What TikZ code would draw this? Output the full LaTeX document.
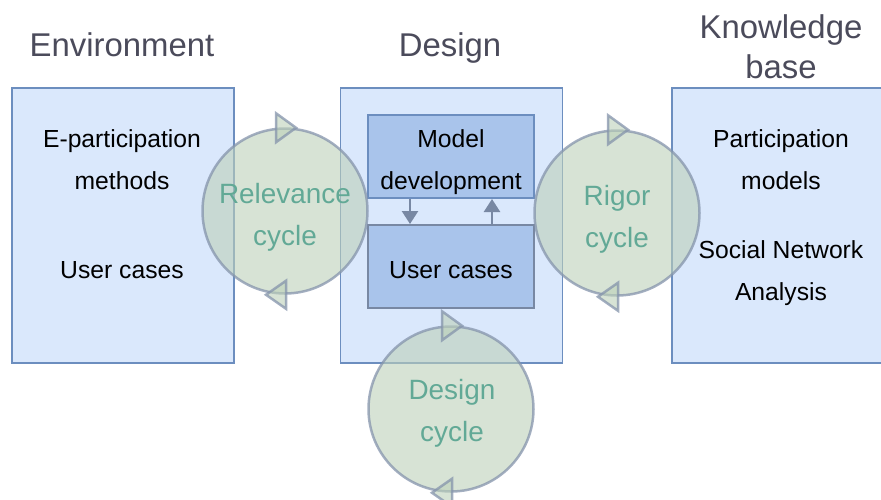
\documentclass[tikz,border=0pt]{standalone}
\usepackage{fontspec}
\setmainfont{Liberation Sans}
\usetikzlibrary{arrows.meta}

\definecolor{boxfill}{HTML}{DAE8FC}
\definecolor{boxline}{HTML}{6C8EBF}
\definecolor{innerfill}{HTML}{A9C4EB}
\definecolor{innerline}{HTML}{7888A3}
\definecolor{cyclefill}{HTML}{BCD0B9}
\definecolor{cycleline}{HTML}{8594AC}
\definecolor{cycletext}{HTML}{62A996}
\definecolor{titletext}{HTML}{4B4B5B}

\tikzset{
  outerbox/.style={draw=boxline, fill=boxfill, line width=1.5pt,
    minimum width=222pt, minimum height=275pt, inner sep=0pt},
  innerbox/.style={draw=boxline, fill=innerfill, line width=2pt,
    minimum width=166pt, minimum height=83pt, inner sep=0pt},
  boxtext/.style={align=center, font=\fontsize{24.7}{42}\selectfont},
  title/.style={align=center, text=titletext, font=\fontsize{32.9}{40}\selectfont},
  cycle/.style={circle, draw=cycleline, draw opacity=0.75, fill=cyclefill,
    fill opacity=0.6, line width=2.5pt, minimum size=165pt, inner sep=0pt},
  cycletxt/.style={align=center, text=cycletext,
    font=\fontsize{27.9}{42}\selectfont},
  cyclemark/.style={draw=cycleline, draw opacity=0.75, fill=cyclefill,
    fill opacity=0.6, line width=2.5pt, line join=miter},
  link/.style={draw=innerline, fill=innerline, line width=2.5pt,
    -{Triangle[length=13pt,width=16pt]}}
}

\begin{document}
\begin{tikzpicture}[x=1pt, y=-1pt]
  \useasboundingbox (0,0) rectangle (881,499);

  % titles
  \node[title] (envtitle) at (122,45) {Environment};
  \node[title] (designtitle) at (450,48) {Design};
  \node[title] (kbtitle) at (781,47) {Knowledge\\base};

  % outer boxes
  \node[outerbox] (env) at (123,225.5) {};
  \node[outerbox] (design) at (451.5,225.5) {};
  \node[outerbox] (kb) at (783,225.5) {};

  \node[boxtext] (envmethods) at (122,160) {E-participation\\methods};
  \node[boxtext] (envcases) at (122,270) {User cases};
  \node[boxtext] (kbmodels) at (781,160) {Participation\\models};
  \node[boxtext] (kbsna) at (781,273) {Social Network\\Analysis};

  % inner boxes
  \node[innerbox] (model) at (451,156.5) {};
  \node[innerbox, draw=innerline] (user) at (451,266.5) {};
  \node[boxtext] (modeltext) at (451,162) {Model\\development};
  \node[boxtext] (usertext) at (451,270) {User cases};
  \draw[link] ([xshift=-41pt]model.south) -- ([xshift=-41pt]user.north);
  \draw[link] ([xshift=41pt]user.north) -- ([xshift=41pt]model.south);

  % cycles
  \node[cycle] (relevance) at (285,211) {};
  \node[cycle] (rigor) at (617,213) {};
  \node[cycle] (designcycle) at (451,409) {};

  \foreach \c in {relevance, rigor, designcycle} {
    \draw[cyclemark] ([xshift=-9pt]\c.north) ++(0,-14) -- ++(0,29) -- ++(20,-14.5) -- cycle;
    \draw[cyclemark] ([xshift=1pt]\c.south) ++(0,-14) -- ++(0,28) -- ++(-20,-14) -- cycle;
  }

  \node[cycletxt] (relevancetext) at (285,217) {Relevance\\cycle};
  \node[cycletxt] (rigortext) at (617,219) {Rigor\\cycle};
  \node[cycletxt] (designcycletext) at (452,413) {Design\\cycle};
\end{tikzpicture}
\end{document}
